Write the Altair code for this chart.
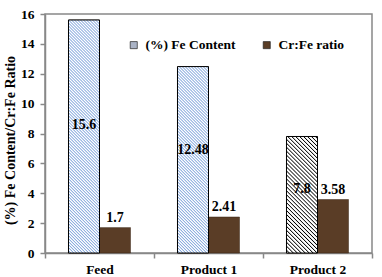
import math
import altair as alt
import pandas as pd

categories = ["Feed", "Product 1", "Product 2"]
series = ["(%) Fe Content", "Cr:Fe ratio"]
fe_content = [15.6, 12.48, 7.8]
cr_fe_ratio = [1.7, 2.41, 3.58]

rows = []
for c, v in zip(categories, fe_content):
    rows.append({"category": c, "series": series[0], "value": v, "label": str(v)})
for c, v in zip(categories, cr_fe_ratio):
    rows.append({"category": c, "series": series[1], "value": v, "label": str(v)})
df = pd.DataFrame(rows)

W, H = 327, 239
YMAX = 16
BAR_W = 31.0
FONT = "Liberation Serif"


def hatch(w, h, period, color, bg="white"):
    L = (w + h) / math.sqrt(2)
    s = (w + h) / (w * w + h * h)
    P = period / L
    n = int(math.ceil(1 / P)) + 1
    stops = []
    for k in range(n):
        a = k * P
        pts = [(a, bg), (a + 0.45 * P, bg), (a + 0.72 * P, color)]
        done = False
        for off, col in pts:
            if off > 1:
                done = True
                break
            stops.append(alt.GradientStop(offset=round(off, 5), color=col))
        if done:
            break
    return alt.LinearGradient(
        gradient="linear", stops=stops, x1=0, y1=1,
        x2=round(s * w, 5), y2=round(1 - s * h, 5)
    )


axis_font = dict(
    labelFont=FONT, labelFontWeight="bold", labelFontSize=13.5, labelColor="black",
    titleFont=FONT, titleFontWeight="bold", titleFontSize=14, titleColor="black",
    domainColor="#888888", domainWidth=1.5, tickColor="#888888", tickWidth=1.5,
)

x_enc = alt.X(
    "category:N",
    scale=alt.Scale(domain=categories, paddingInner=0, paddingOuter=0),
    axis=alt.Axis(title=None, labelAngle=0, tickBand="extent", tickSize=5,
                  labelPadding=4, **axis_font),
)
xo_enc = alt.XOffset(
    "series:N", scale=alt.Scale(domain=series, paddingInner=0, paddingOuter=0.758)
)


def y_enc(field):
    return alt.Y(
        field,
        scale=alt.Scale(domain=[0, YMAX], nice=False),
        axis=alt.Axis(
            title="(%) Fe Content/Cr:Fe Ratio",
            values=list(range(0, 17, 2)),
            tickSize=5,
            labelPadding=6,
            grid=False,
            titleX=-35,
            titleY=126,
            titleAngle=-90,
            titleBaseline="middle",
            titleAlign="center",
            **axis_font,
        ),
    )


base = alt.Chart(df).mark_bar(stroke="#3a2616", strokeWidth=0.5).encode(
    x=x_enc,
    xOffset=xo_enc,
    y=y_enc("value:Q"),
    color=alt.Color(
        "series:N",
        scale=alt.Scale(domain=series, range=["#aab3c6", "#5a3d26"]),
        legend=alt.Legend(
            title=None,
            orient="none",
            legendX=82,
            legendY=24,
            direction="horizontal",
            symbolType="square",
            symbolSize=50,
            symbolStrokeColor="#222222",
            symbolStrokeWidth=0.7,
            labelFont=FONT,
            labelFontWeight="bold",
            labelFontSize=13.5,
            labelColor="black",
            labelOffset=5,
            labelLimit=200,
            columnPadding=24,
        ),
    ),
)

layers = [base]
styles = {
    "Feed": (2.12, "#3c74c8"),
    "Product 1": (2.12, "#3c74c8"),
    "Product 2": (2.8, "#000000"),
}
for c, v in zip(categories, fe_content):
    h = v / YMAX * H
    per, col = styles[c]
    ov = (
        alt.Chart(df)
        .transform_filter((alt.datum.category == c) & (alt.datum.series == series[0]))
        .mark_bar(fill=hatch(BAR_W, h, per, col), stroke="black", strokeWidth=1)
        .encode(x=x_enc, xOffset=xo_enc, y=y_enc("value:Q"))
    )
    layers.append(ov)

fe_text = (
    alt.Chart(df)
    .transform_filter(alt.datum.series == series[0])
    .transform_calculate(label_y="datum.value * 0.55")
    .mark_text(font=FONT, fontWeight="bold", fontSize=14, color="black",
               baseline="middle", align="center")
    .encode(x=x_enc, xOffset=xo_enc, y=y_enc("label_y:Q"), text="label:N")
)
cr_text = (
    alt.Chart(df)
    .transform_filter(alt.datum.series == series[1])
    .mark_text(font=FONT, fontWeight="bold", fontSize=14, color="black",
               baseline="bottom", align="center", dy=-3)
    .encode(x=x_enc, xOffset=xo_enc, y=y_enc("value:Q"), text="label:N")
)
layers += [fe_text, cr_text]

chart = (
    alt.layer(*layers)
    .properties(
        width=W,
        height=H,
        autosize=alt.AutoSizeParams(type="none"),
        padding={"left": 45, "top": 14, "right": 10, "bottom": 24},
    )
    .configure(background="white", font=FONT)
    .configure_view(stroke="#888888", strokeWidth=1.5)
    .configure_legend(labelFont=FONT, labelFontWeight="bold", labelFontSize=13.5)
)

chart.save("out.html", embed_options={"renderer": "svg", "actions": False})
